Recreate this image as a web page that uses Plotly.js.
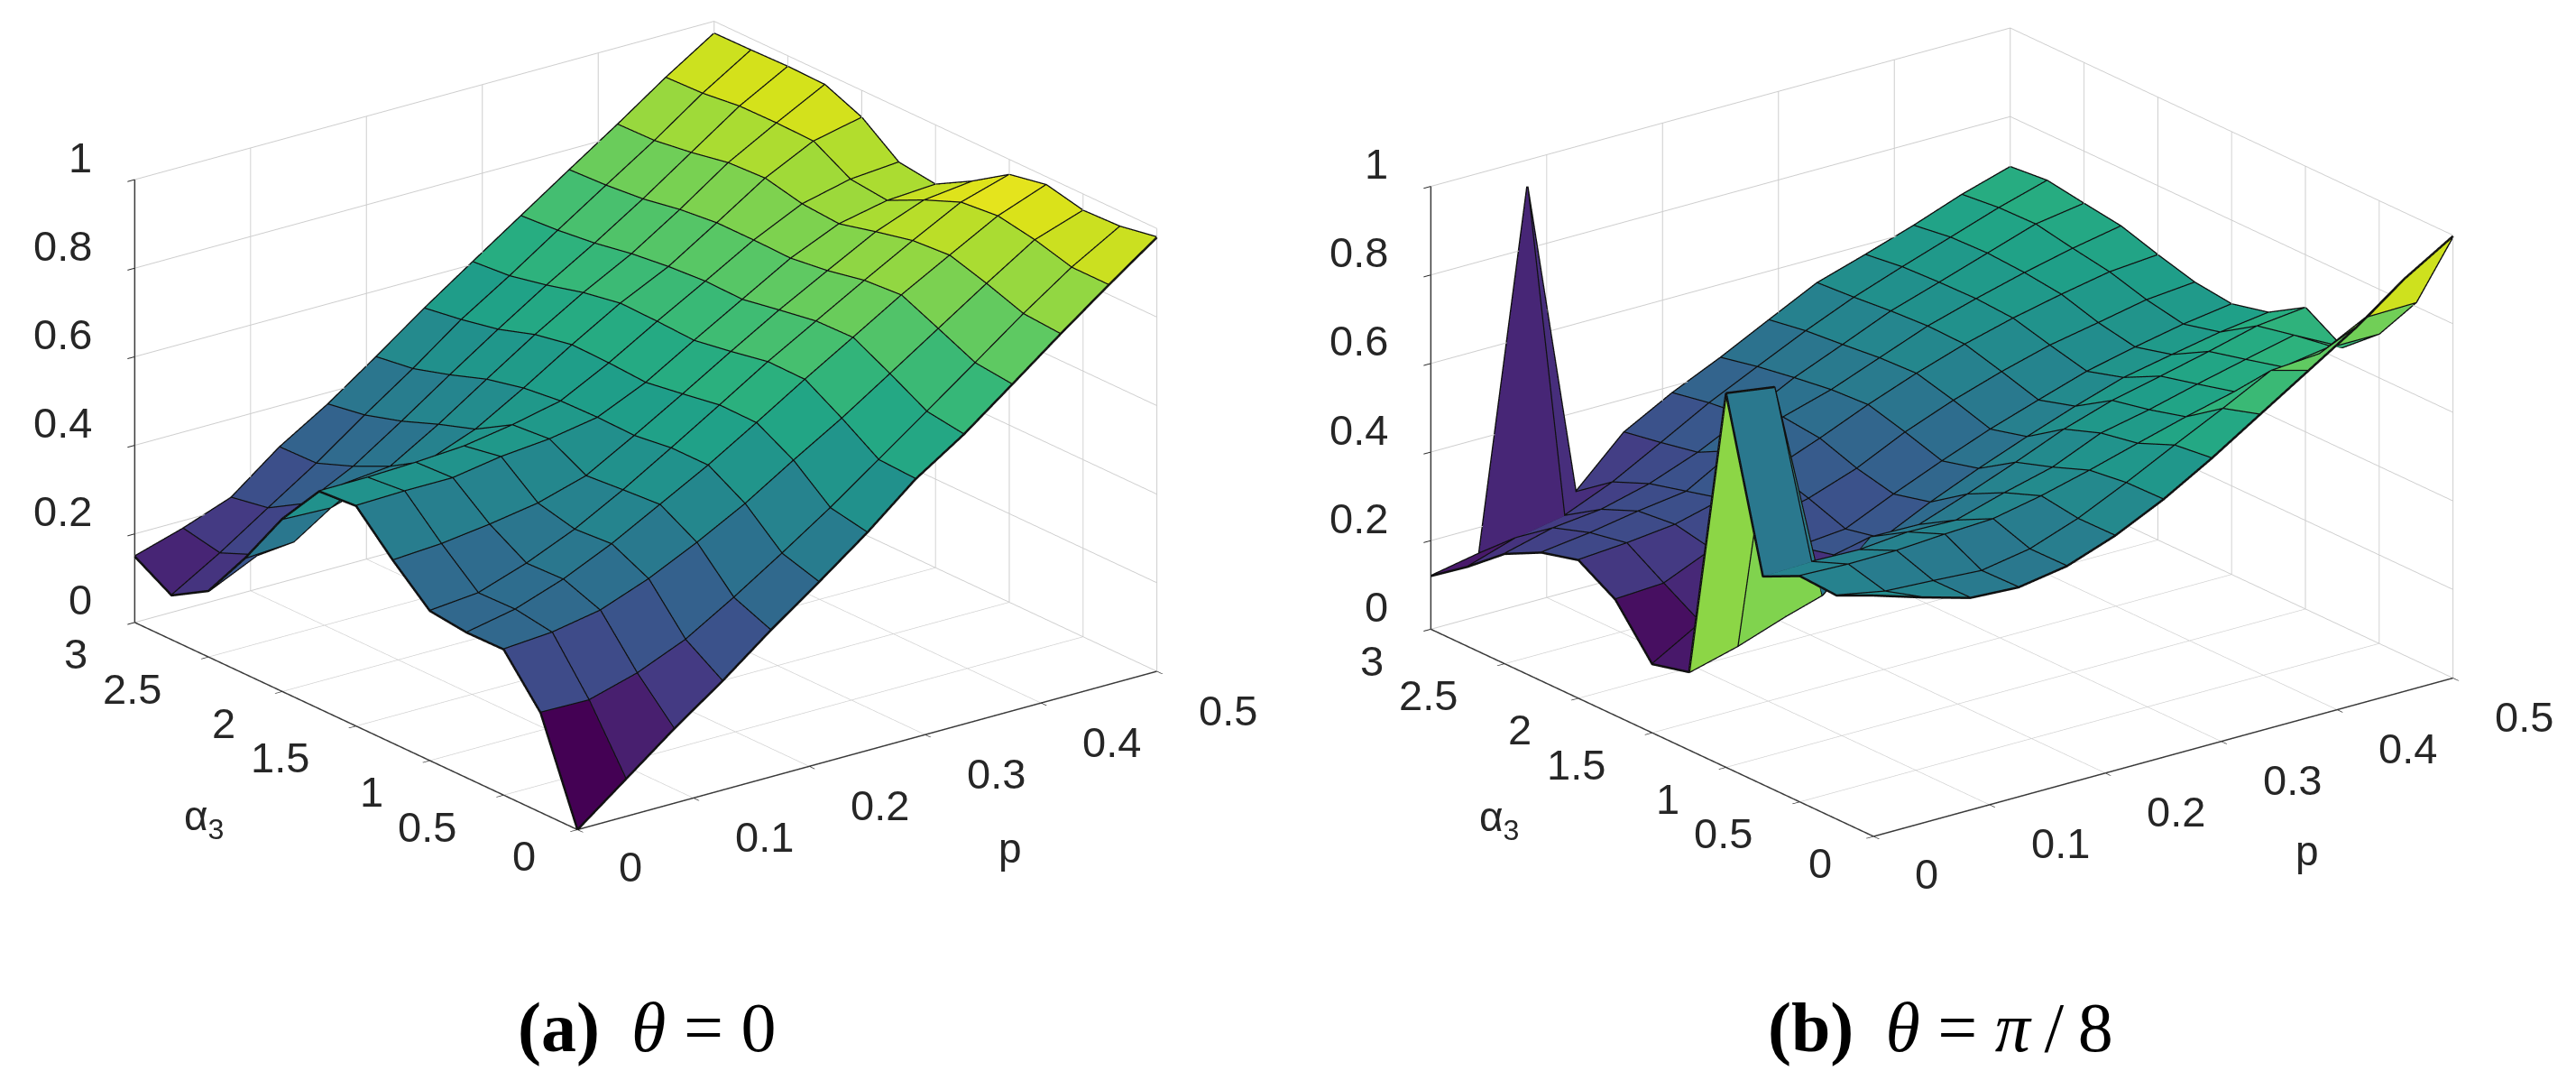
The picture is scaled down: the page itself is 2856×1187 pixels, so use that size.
<!DOCTYPE html>
<html><head><meta charset="utf-8">
<script src="https://cdn.plot.ly/plotly-3.0.1.min.js"></script>
<style>html,body{margin:0;padding:0;background:#fff}#c{width:2856px;height:1187px}</style>
</head><body><div id="c"></div>
<script>
const pValues=[0,0.0417,0.0833,0.125,0.1667,0.2083,0.25,0.2917,0.3333,0.375,0.4167,0.4583,0.5];
const alphaValues=[0,0.25,0.5,0.75,1,1.25,1.5,1.75,2,2.25,2.5,2.75,3];
const pTicks=[0,0.1,0.2,0.3,0.4,0.5];
const alphaTicks=[0,0.5,1,1.5,2,2.5,3];
const zTicks=[0,0.2,0.4,0.6,0.8,1];
const zA=[
[0,.084,.168,.246,.331,.41,.492,.583,.654,.737,.821,.902,.98],
[.225,.223,.254,.30,.365,.435,.508,.587,.666,.746,.827,.902,.965],
[.329,.337,.357,.398,.45,.508,.576,.641,.712,.784,.856,.925,.962],
[.328,.35,.388,.438,.497,.556,.622,.69,.755,.821,.881,.94,.981],
[.338,.348,.385,.432,.491,.556,.623,.691,.753,.815,.875,.932,.965],
[.413,.42,.434,.452,.484,.545,.609,.675,.739,.798,.856,.898,.911],
[.497,.50,.50,.518,.528,.547,.596,.661,.724,.787,.835,.858,.865],
[.491,.492,.496,.503,.521,.545,.601,.665,.726,.789,.841,.867,.876],
[.39,.386,.42,.43,.472,.535,.603,.667,.72,.789,.86,.914,.938],
[.263,.27,.368,.379,.444,.516,.587,.652,.71,.78,.856,.916,.973],
[.149,.20,.286,.34,.412,.487,.56,.63,.695,.765,.84,.915,.975],
[.10,.165,.237,.308,.387,.462,.543,.612,.685,.757,.828,.905,.973],
[.149,.182,.222,.306,.373,.45,.53,.605,.679,.753,.826,.902,.972]];
const zB=[
[.544,.51,.479,.473,.491,.53,.582,.645,.714,.783,.852,.932,.998],
[.505,.484,.478,.471,.49,.529,.58,.635,.688,.744,.752,.808,.81],
[.51,.506,.507,.514,.519,.541,.569,.60,.63,.657,.683,.70,.70],
[.47,.473,.47,.48,.477,.509,.537,.584,.607,.635,.661,.686,.63],
[.845,.829,.33,.43,.428,.467,.509,.554,.589,.614,.64,.668,.68],
[.176,.205,.243,.35,.358,.41,.456,.498,.537,.572,.594,.615,.63],
[.155,.218,.30,.33,.34,.389,.434,.476,.512,.547,.572,.594,.61],
[.262,.268,.315,.345,.37,.408,.46,.502,.537,.567,.588,.61,.62],
[.312,.32,.332,.36,.395,.437,.483,.524,.56,.589,.613,.634,.643],
[.29,.304,.323,.338,.40,.446,.478,.52,.562,.594,.623,.648,.669],
[.248,.276,.288,.316,.357,.41,.466,.511,.557,.592,.628,.664,.681],
[.18,.215,.235,.281,.34,.40,.452,.503,.549,.588,.625,.662,.694],
[.12,.141,.94,.22,.325,.384,.434,.489,.543,.577,.613,.653,.686]];
const W=2856,H=1187;
function surf(Z,scene){
  const n=alphaValues.length,m=pValues.length,x=[],y=[],z=[],a=[],b=[],c=[],v=[];
  for(let i=0;i<n;i++)for(let j=0;j<m;j++){x.push(pValues[j]);y.push(alphaValues[i]);z.push(Z[i][j]);}
  for(let i=0;i<n-1;i++)for(let j=0;j<m-1;j++){
    const q=i*m+j;
    a.push(q,q);b.push(q+1,q+m+1);c.push(q+m+1,q+m);v.push(Z[i][j],Z[i][j]);
  }
  const all=Z.flat();
  const mesh={type:'mesh3d',scene,x,y,z,i:a,j:b,k:c,intensity:v,intensitymode:'cell',colorscale:'Viridis',
    cmin:Math.min(...all),cmax:Math.max(...all),showscale:false,flatshading:true,hoverinfo:'skip',
    lighting:{ambient:1,diffuse:0,specular:0,roughness:1,fresnel:0}};
  const lx=[],ly=[],lz=[];
  for(let i=0;i<n;i++){for(let j=0;j<m;j++){lx.push(pValues[j]);ly.push(alphaValues[i]);lz.push(Z[i][j]);}lx.push(null);ly.push(null);lz.push(null);}
  for(let j=0;j<m;j++){for(let i=0;i<n;i++){lx.push(pValues[j]);ly.push(alphaValues[i]);lz.push(Z[i][j]);}lx.push(null);ly.push(null);lz.push(null);}
  const line={type:'scatter3d',scene,mode:'lines',x:lx,y:ly,z:lz,line:{color:'#101010',width:5},hoverinfo:'skip',showlegend:false,connectgaps:false};
  const pMax=pTicks[pTicks.length-1],aMax=alphaTicks[alphaTicks.length-1],zMax=zTicks[zTicks.length-1];
  const axes={type:'scatter3d',scene,mode:'lines',x:[0,pMax,null,0,0,null,0,0],y:[0,0,null,0,aMax,null,aMax,aMax],z:[0,0,null,0,0,null,0,zMax],
    line:{color:'#3c3c3c',width:3},hoverinfo:'skip',showlegend:false,connectgaps:false};
  return [mesh,line,axes];
}
function ax(vals,range){return {range,tickmode:'array',tickvals:vals,showticklabels:false,
  showbackground:false,showgrid:true,gridcolor:'#cdcdcd',gridwidth:2,zeroline:false,showline:true,linecolor:'#3a3a3a',linewidth:2,
  ticks:'outside',ticklen:10,tickcolor:'#262626',tickwidth:2,showspikes:false,title:{text:''},autorange:false};}
const tf={family:'Liberation Sans, Arial, sans-serif',size:47,color:'#262626'};
function tickNotes(){
  const out=[];
  const base={showarrow:false,font:tf,yanchor:'middle'};
  pTicks.forEach(v=>out.push({...base,x:v,y:0,z:0,text:String(v),xanchor:'left',xshift:44,yshift:v===0?-41:-43}));
  alphaTicks.forEach(v=>out.push({...base,x:0,y:v,z:0,text:String(v),xanchor:'right',xshift:v===0?-44:-50,yshift:v===0?-29:-35}));
  zTicks.forEach(v=>out.push({...base,x:0,y:alphaTicks[alphaTicks.length-1],z:v,text:String(v),xanchor:'right',xshift:-45,yshift:25}));
  return out;
}
function scene(cx,cy){
  const hw=700,top=0,bot=1050,a=1.54,k=2,cz=-(bot/2-cy)/(491*0.934);
  return {domain:{x:[(cx-hw)/W,(cx+hw)/W],y:[1-bot/H,1-top/H]},
    xaxis:ax(pTicks,[0,0.5]),yaxis:ax(alphaTicks,[0,3]),zaxis:ax(zTicks,[0,1]),
    aspectmode:'manual',aspectratio:{x:a,y:a,z:0.65*a},annotations:tickNotes(),
    camera:{projection:{type:'orthographic'},up:{x:0,y:0,z:1},center:{x:0,y:0,z:cz},eye:{x:-0.567*k,y:-0.742*k,z:0.3575*k+cz}}};
}
function note(x,y,text,size,fam){return {xref:'paper',yref:'paper',x:x/W,y:1-y/H,text,showarrow:false,xanchor:'center',yanchor:'middle',
  font:{family:fam,size,color:fam.startsWith('Liberation Serif')?'#000':'#262626'}};}
const sans='Liberation Sans, Arial, sans-serif',serif='Liberation Serif, serif';
const layout={width:W,height:H,margin:{l:0,r:0,t:0,b:0},paper_bgcolor:'#fff',showlegend:false,
  scene:scene(716,475),scene2:scene(2153,482),
  annotations:[
    note(226,907,'α<sub>3</sub>',46,sans),note(1120,940,'p',46,sans),
    note(1662,908,'α<sub>3</sub>',46,sans),note(2558,943,'p',46,sans),
    note(717,1138,'<b>(a)</b>\u2009 <i>θ</i> = 0',78,serif),note(2151,1138,'<b>(b)</b>\u2009 <i>θ</i> = <i>π</i>\u2009/\u20098',78,serif)
  ]};
Plotly.newPlot('c',[...surf(zA,'scene'),...surf(zB,'scene2')],layout,{displayModeBar:false});
</script></body></html>
